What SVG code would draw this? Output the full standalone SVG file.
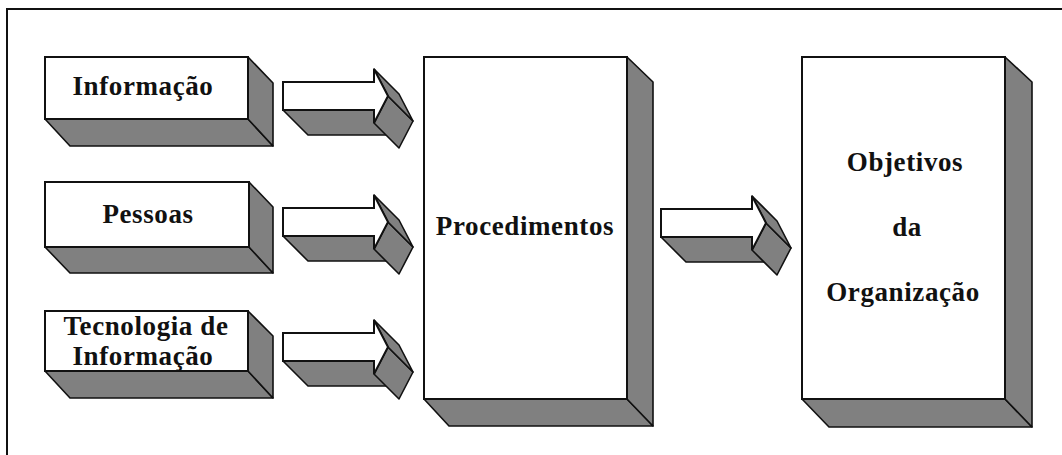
<svg xmlns="http://www.w3.org/2000/svg" xmlns:xlink="http://www.w3.org/1999/xlink" width="1062" height="455" viewBox="0 0 1062 455">
  <style>
    .front { fill: #ffffff; stroke: #111111; stroke-width: 2; stroke-linejoin: miter; }
    .side { fill: #808080; stroke: #111111; stroke-width: 1.6; stroke-linejoin: round; }
    .frame { fill: none; stroke: #111111; stroke-width: 2; }
    .label { font-family: "Liberation Serif", "Times New Roman", serif; font-weight: bold; font-size: 27px; letter-spacing: 0.6px; fill: #111111; text-anchor: middle; }
  </style>
  <defs>
    <!-- extruded block arrow, origin at top-left of the shaft -->
    <g id="arrow">
      <polygon class="side" points="0,28 91,28 116,53 25,53"/>
      <polygon class="side" points="105,14 91,41 116,66 130,39"/>
      <polygon class="side" points="91,-13 105,14 130,39 116,12"/>
      <polygon class="front" points="0,0 91,0 91,-13 105,14 91,41 91,28 0,28"/>
    </g>
  </defs>

  <rect width="1062" height="455" fill="#ffffff"/>
  <!-- page frame (cut at right and bottom) -->
  <path class="frame" d="M7,455 V9 H1062"/>

  <g id="node-informacao">
    <polygon class="side" points="45,119 248,119 273,146 70,146"/>
    <polygon class="side" points="248,57 273,83 273,146 248,119"/>
    <rect class="front" x="45" y="57" width="203" height="62"/>
    <text class="label" x="143" y="95">Informação</text>
  </g>

  <g id="node-pessoas">
    <polygon class="side" points="45,247 249,247 273,273 70,273"/>
    <polygon class="side" points="249,182 273,207 273,273 249,247"/>
    <rect class="front" x="45" y="182" width="204" height="65"/>
    <text class="label" x="148" y="223">Pessoas</text>
  </g>

  <g id="node-tecnologia">
    <polygon class="side" points="45,371 248,371 273,398 70,398"/>
    <polygon class="side" points="248,311 273,336 273,398 248,371"/>
    <rect class="front" x="45" y="311" width="203" height="60"/>
    <text class="label" x="146" y="335">Tecnologia de</text>
    <text class="label" x="143" y="365">Informação</text>
  </g>

  <g id="node-procedimentos">
    <polygon class="side" points="424,399 627,399 653,426 449,426"/>
    <polygon class="side" points="627,57 653,82 653,426 627,399"/>
    <rect class="front" x="424" y="57" width="203" height="342"/>
    <text class="label" x="525" y="235">Procedimentos</text>
  </g>

  <g id="node-objetivos">
    <polygon class="side" points="802,399 1005,399 1032,427 829,427"/>
    <polygon class="side" points="1005,57 1032,82 1032,427 1005,399"/>
    <rect class="front" x="802" y="57" width="203" height="342"/>
    <text class="label" x="905" y="171">Objetivos</text>
    <text class="label" x="907" y="236">da</text>
    <text class="label" x="903" y="301">Organização</text>
  </g>

  <g id="connectors">
    <use xlink:href="#arrow" transform="translate(283,82)"/>
    <use xlink:href="#arrow" transform="translate(283,208)"/>
    <use xlink:href="#arrow" transform="translate(283,333)"/>
    <use xlink:href="#arrow" transform="translate(661,209)"/>
  </g>
</svg>
